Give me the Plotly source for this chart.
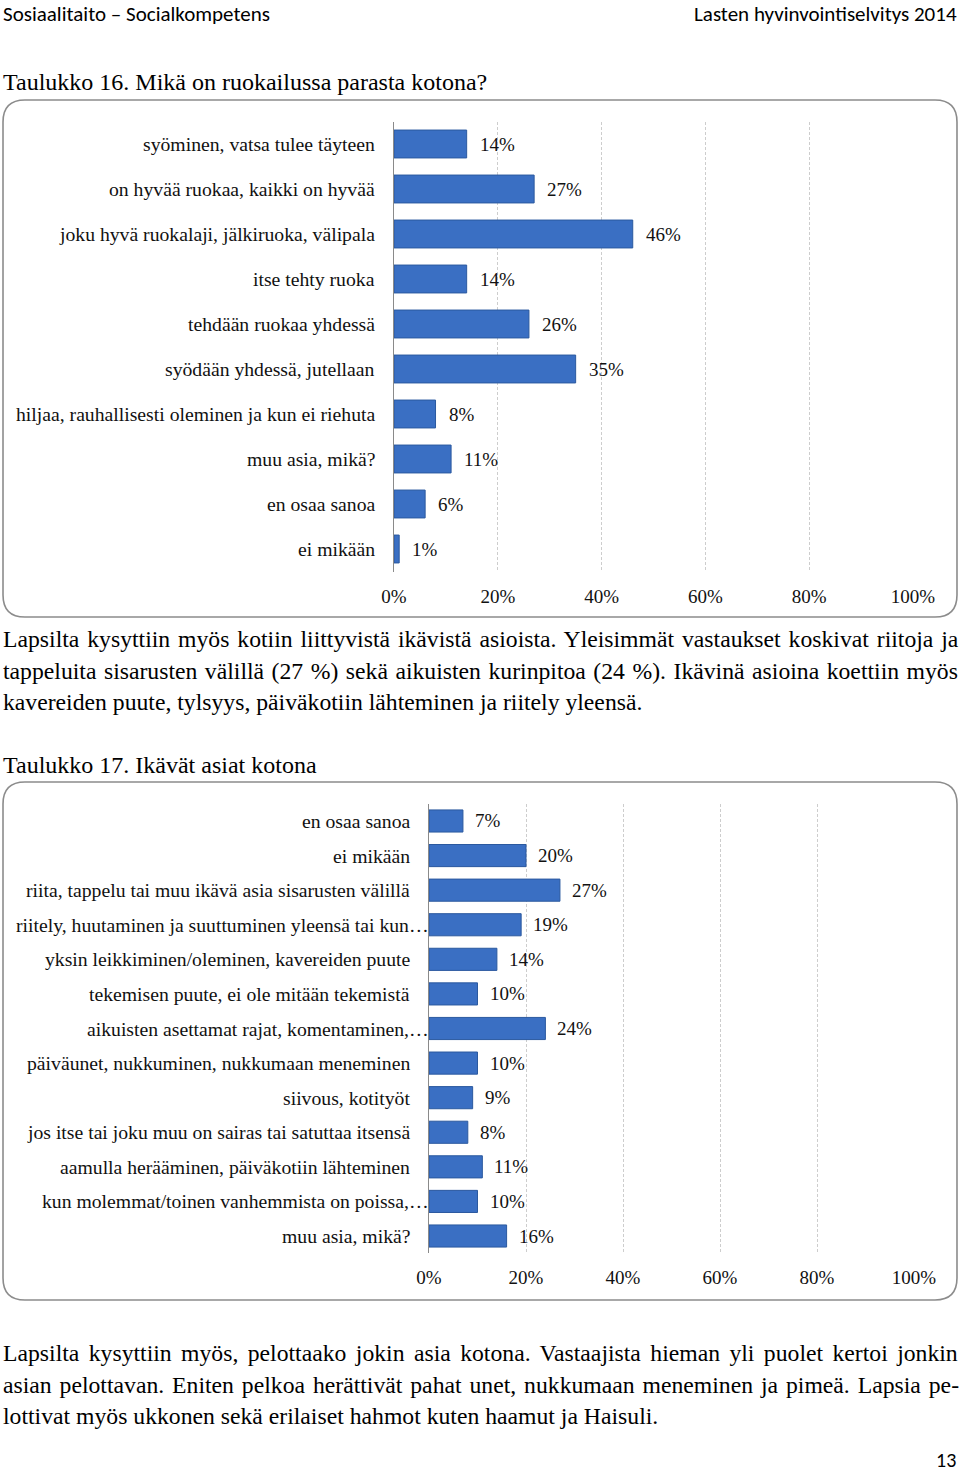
import plotly.graph_objects as go

W, H = 960, 1474

# ---------------- data ----------------
cats1 = ["syöminen, vatsa tulee täyteen",
         "on hyvää ruokaa, kaikki on hyvää",
         "joku hyvä ruokalaji, jälkiruoka, välipala",
         "itse tehty ruoka",
         "tehdään ruokaa yhdessä",
         "syödään yhdessä, jutellaan",
         "hiljaa, rauhallisesti oleminen ja kun ei riehuta",
         "muu asia, mikä?",
         "en osaa sanoa",
         "ei mikään"]
vals1 = [14, 27, 46, 14, 26, 35, 8, 11, 6, 1]

cats2 = ["en osaa sanoa",
         "ei mikään",
         "riita, tappelu tai muu ikävä asia sisarusten välillä",
         "riitely, huutaminen ja suuttuminen yleensä tai kun…",
         "yksin leikkiminen/oleminen, kavereiden puute",
         "tekemisen puute, ei ole mitään tekemistä",
         "aikuisten asettamat rajat, komentaminen,…",
         "päiväunet, nukkuminen, nukkumaan meneminen",
         "siivous, kotityöt",
         "jos itse tai joku muu on sairas tai satuttaa itsensä",
         "aamulla herääminen, päiväkotiin lähteminen",
         "kun molemmat/toinen vanhemmista on poissa,…",
         "muu asia, mikä?"]
vals2 = [7, 20, 27, 19, 14, 10, 24, 10, 9, 8, 11, 10, 16]

tick_vals = [0, 20, 40, 60, 80, 100]
tick_text = ["0%", "20%", "40%", "60%", "80%", "100%"]

header_left = "Sosiaalitaito – Socialkompetens"
header_right = "Lasten hyvinvointiselvitys 2014"
title1 = "Taulukko 16. Mikä on ruokailussa parasta kotona?"
title2 = "Taulukko 17. Ikävät asiat kotona"
para1 = ["Lapsilta kysyttiin myös kotiin liittyvistä ikävistä asioista. Yleisimmät vastaukset koskivat riitoja ja",
         "tappeluita sisarusten välillä (27 %) sekä aikuisten kurinpitoa (24 %). Ikävinä asioina koettiin myös",
         "kavereiden puute, tylsyys, päiväkotiin lähteminen ja riitely yleensä."]
para2 = ["Lapsilta kysyttiin myös, pelottaako jokin asia kotona. Vastaajista hieman yli puolet kertoi jonkin",
         "asian pelottavan. Eniten pelkoa herättivät pahat unet, nukkumaan meneminen ja pimeä. Lapsia pe-",
         "lottivat myös ukkonen sekä erilaiset hahmot kuten haamut ja Haisuli."]
page_no = "13"

# ---------------- styling ----------------
SERIF = "Liberation Serif, Times New Roman, serif"
SANS = "Carlito, Lato, sans-serif"
BAR = "#3a6fc3"
BAR_LINE = "#2b599f"
CAT = 19.7          # category label size
VAL = 19            # value / tick label size
BODY = 23.7         # paragraph size
# extra word spacing (px) to imitate the justified paragraph lines
just1 = [2.0, 1.6, 0]
just2 = [3.5, 2.0, 0]


def px(x):
    return x / W


def py(y):
    return 1 - y / H


fig = go.Figure()

fig.add_trace(go.Bar(x=vals1, y=cats1, orientation="h", xaxis="x", yaxis="y",
                     marker=dict(color=BAR, line=dict(color=BAR_LINE, width=1)),
                     width=0.62, showlegend=False, hoverinfo="x+y"))
fig.add_trace(go.Bar(x=vals2, y=cats2, orientation="h", xaxis="x2", yaxis="y2",
                     marker=dict(color=BAR, line=dict(color=BAR_LINE, width=1)),
                     width=0.64, showlegend=False, hoverinfo="x+y"))

xcommon = dict(range=[0, 100], tickmode="array", tickvals=tick_vals, ticktext=tick_text,
               showgrid=True, gridcolor="#cdcdcd", griddash="3px,2px", gridwidth=1,
               zeroline=False, showline=False, ticks="",
               tickfont=dict(family=SERIF, size=VAL, color="#111"),
               ticklabelstandoff=11, fixedrange=True, automargin=False)
ycommon = dict(type="category", autorange="reversed", showticklabels=False,
               showline=True, linecolor="#8a8a8a", linewidth=1, showgrid=False,
               zeroline=False, ticks="", fixedrange=True, automargin=False)

fig.update_layout(
    width=W, height=H, autosize=False,
    margin=dict(l=0, r=0, t=0, b=0, pad=0, autoexpand=False),
    paper_bgcolor="white", plot_bgcolor="white",
    xaxis=dict(domain=[px(394), px(913)], anchor="y", **xcommon),
    yaxis=dict(domain=[py(571.5), py(121.5)], anchor="x",
               categoryorder="array", categoryarray=cats1, **ycommon),
    xaxis2=dict(domain=[px(429), px(914)], anchor="y2", **xcommon),
    yaxis2=dict(domain=[py(1253.3), py(803.7)], anchor="x2",
                categoryorder="array", categoryarray=cats2, **ycommon),
)

ann = []
# category labels
for c in cats1:
    ann.append(dict(xref="x", yref="y", x=0, y=c, text=c, showarrow=False,
                    xanchor="right", yanchor="middle", xshift=-17,
                    font=dict(family=SERIF, size=CAT, color="#111")))
for c in cats2:
    shift = 2 if c.endswith("…") else -17
    ann.append(dict(xref="x2", yref="y2", x=0, y=c, text=c, showarrow=False,
                    xanchor="right", yanchor="middle", xshift=shift,
                    font=dict(family=SERIF, size=CAT, color="#111")))
# value labels
for c, v in zip(cats1, vals1):
    ann.append(dict(xref="x", yref="y", x=v, y=c, text=f"{v}%", showarrow=False,
                    xanchor="left", yanchor="middle", xshift=11,
                    font=dict(family=SERIF, size=VAL, color="#111")))
for c, v in zip(cats2, vals2):
    ann.append(dict(xref="x2", yref="y2", x=v, y=c, text=f"{v}%", showarrow=False,
                    xanchor="left", yanchor="middle", xshift=10,
                    font=dict(family=SERIF, size=VAL, color="#111")))


def text(x, y, s, size, family=SERIF, anchor="left", ws=0):
    if ws:
        s = f'<span style="word-spacing:{ws}px">{s}</span>'
    ann.append(dict(xref="paper", yref="paper", x=px(x), y=py(y), text=s,
                    showarrow=False, xanchor=anchor, yanchor="middle",
                    font=dict(family=family, size=size, color="#000")))


text(1, 14, header_left, 21, SANS)
text(959, 14, header_right, 21, SANS, "right")
text(1, 82, title1, 24)
for i, line in enumerate(para1):
    text(1, 639 + i * 31.5, line, BODY, ws=just1[i])
text(1, 765, title2, 24)
for i, line in enumerate(para2):
    text(1, 1353 + i * 31.5, line, BODY, ws=just2[i])
text(958, 1460, page_no, 20, SANS, "right")

fig.update_layout(annotations=ann)


def rrect(x0, y0, x1, y1, r):
    X = lambda v: f"{px(v):.5f}"
    Y = lambda v: f"{py(v):.5f}"
    return (f"M {X(x0 + r)},{Y(y0)} L {X(x1 - r)},{Y(y0)} Q {X(x1)},{Y(y0)} {X(x1)},{Y(y0 + r)} "
            f"L {X(x1)},{Y(y1 - r)} Q {X(x1)},{Y(y1)} {X(x1 - r)},{Y(y1)} "
            f"L {X(x0 + r)},{Y(y1)} Q {X(x0)},{Y(y1)} {X(x0)},{Y(y1 - r)} "
            f"L {X(x0)},{Y(y0 + r)} Q {X(x0)},{Y(y0)} {X(x0 + r)},{Y(y0)} Z")


fig.update_layout(shapes=[
    dict(type="path", xref="paper", yref="paper", path=rrect(3, 100, 957, 617, 22),
         line=dict(color="#8c8c8c", width=1.6), layer="below"),
    dict(type="path", xref="paper", yref="paper", path=rrect(3, 782, 957, 1300, 22),
         line=dict(color="#8c8c8c", width=1.6), layer="below"),
])

fig.write_html(
    "out.html",
    config={"responsive": False, "displayModeBar": False},
    post_script="document.body.style.margin='0';document.body.style.overflow='hidden';",
)
